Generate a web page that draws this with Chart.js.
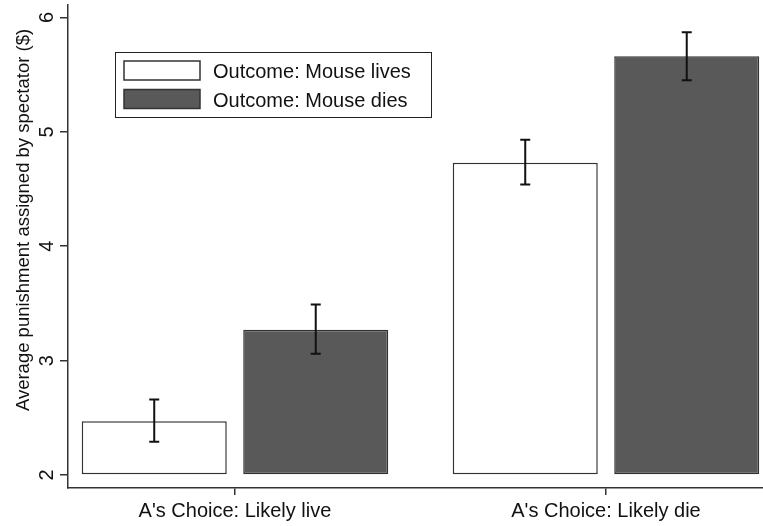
<!DOCTYPE html>
<html lang="en">
  <head>
    <meta charset="UTF-8" />
    <title>Punishment by choice and outcome</title>
    <script src="https://cdn.jsdelivr.net/npm/chart.js"></script>
    <style>
      body { margin: 0; background: #fff; }
    </style>
  </head>

  <body>
    <canvas id="myChart" width="763" height="526"></canvas>

    <script>
      // categories along the x axis
      const groups = ["A's Choice: Likely live", "A's Choice: Likely die"];
      const seriesNames = ["Outcome: Mouse lives", "Outcome: Mouse dies"];

      // mean punishment ($) per group
      const livesMean = [2.47, 4.73];
      const diesMean = [3.27, 5.66];

      // error bar ends
      const livesLow = [2.29, 4.54];
      const livesHigh = [2.66, 4.93];
      const diesLow = [3.06, 5.45];
      const diesHigh = [3.49, 5.87];

      const yTicks = [2, 3, 4, 5, 6];

      const FONT = "'Liberation Sans', Arial, Helvetica, sans-serif";
      const AXIS = "#333";

      const toPoints = (vals) => vals.map((v, i) => ({ x: i, y: v }));

      // whiskers drawn on top of each bar
      const errorBars = {
        id: "errorBars",
        afterDatasetsDraw(chart) {
          const ctx = chart.ctx;
          const y = chart.scales.y;
          const ranges = [
            [livesLow, livesHigh],
            [diesLow, diesHigh],
          ];
          ctx.save();
          ctx.strokeStyle = "#111";
          ctx.lineWidth = 2;
          ranges.forEach(([lo, hi], d) => {
            chart.getDatasetMeta(d).data.forEach((bar, i) => {
              const x = bar.x;
              const y0 = y.getPixelForValue(lo[i]);
              const y1 = y.getPixelForValue(hi[i]);
              ctx.beginPath();
              ctx.moveTo(x, y0);
              ctx.lineTo(x, y1);
              ctx.moveTo(x - 5, y0);
              ctx.lineTo(x + 5, y0);
              ctx.moveTo(x - 5, y1);
              ctx.lineTo(x + 5, y1);
              ctx.stroke();
            });
          });
          ctx.restore();
        },
      };

      // boxed legend inside the plot + rotated y title
      const decorations = {
        id: "decorations",
        afterDraw(chart) {
          const ctx = chart.ctx;
          ctx.save();

          ctx.strokeStyle = "#222";
          ctx.lineWidth = 1;
          ctx.strokeRect(115.5, 52.5, 316, 65);

          chart.data.datasets.forEach((ds, i) => {
            const top = 61 + i * 28.5;
            ctx.fillStyle = ds.backgroundColor;
            ctx.fillRect(124, top, 76, 19);
            ctx.strokeStyle = AXIS;
            ctx.lineWidth = 1.5;
            ctx.strokeRect(124, top, 76, 19);
            ctx.fillStyle = "#111";
            ctx.font = "20px " + FONT;
            ctx.textBaseline = "alphabetic";
            ctx.textAlign = "left";
            ctx.fillText(ds.label, 213, 78 + i * 28.5);
          });

          ctx.translate(28.5, 220);
          ctx.rotate(-Math.PI / 2);
          ctx.font = "18.5px " + FONT;
          ctx.textAlign = "center";
          ctx.fillStyle = "#111";
          ctx.fillText("Average punishment assigned by spectator ($)", 0, 0);
          ctx.restore();
        },
      };

      // keep the tick labels from pushing the plot area around
      const noLabelPadding = (s) => {
        s.paddingTop = 0;
        s.paddingBottom = 0;
        s.paddingLeft = 0;
        s.paddingRight = 0;
      };

      const ctx = document.getElementById("myChart").getContext("2d");
      const myChart = new Chart(ctx, {
        type: "bar",
        data: {
          datasets: [
            {
              label: seriesNames[0],
              data: toPoints(livesMean),
              backgroundColor: "#ffffff",
              borderColor: AXIS,
              borderWidth: 1.5,
              borderSkipped: false,
              base: 2,
            },
            {
              label: seriesNames[1],
              data: toPoints(diesMean),
              backgroundColor: "#595959",
              borderColor: AXIS,
              borderWidth: 1.5,
              borderSkipped: false,
              base: 2,
            },
          ],
        },
        options: {
          responsive: false,
          animation: false,
          categoryPercentage: 0.8706,
          barPercentage: 0.898,
          layout: { padding: { top: 5, right: 0, bottom: 0, left: 0 } },
          plugins: {
            legend: { display: false },
            tooltip: { enabled: false },
          },
          scales: {
            x: {
              type: "linear",
              min: -0.4501,
              max: 1.4232,
              offset: false,
              afterBuildTicks: (s) => {
                s.ticks = groups.map((g, i) => ({ value: i }));
              },
              afterFit: (s) => {
                s.height = 38;
                noLabelPadding(s);
              },
              ticks: {
                autoSkip: false,
                maxRotation: 0,
                padding: 4,
                color: "#111",
                font: { family: FONT, size: 20 },
                callback: (v) => groups[v],
              },
              grid: {
                offset: false,
                drawOnChartArea: false,
                tickLength: 7,
                color: AXIS,
                lineWidth: 1.5,
              },
              border: { color: AXIS, width: 1.5 },
            },
            y: {
              min: 1.886,
              max: 6.109,
              afterBuildTicks: (s) => {
                s.ticks = yTicks.map((v) => ({ value: v }));
              },
              afterFit: (s) => {
                s.width = 68;
                noLabelPadding(s);
              },
              ticks: {
                minRotation: 90,
                maxRotation: 90,
                crossAlign: "center",
                padding: 7,
                color: "#111",
                font: { family: FONT, size: 20 },
              },
              grid: {
                drawOnChartArea: false,
                tickLength: 8,
                color: AXIS,
                lineWidth: 1.5,
              },
              border: { color: AXIS, width: 1.5 },
            },
          },
        },
        plugins: [errorBars, decorations],
      });
    </script>
  </body>
</html>
